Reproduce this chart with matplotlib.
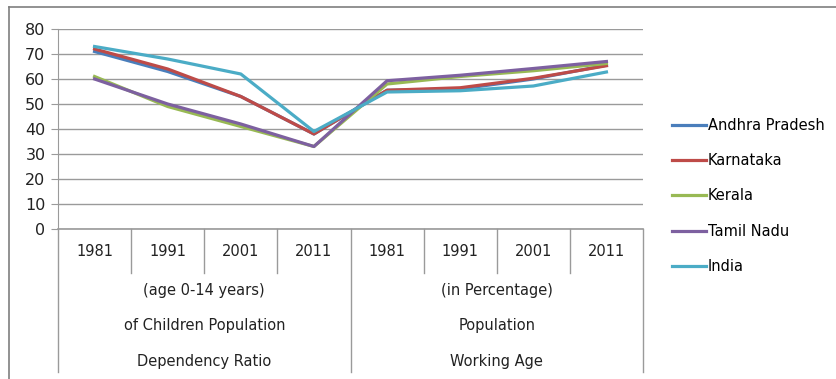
import matplotlib
matplotlib.use("Agg")
import matplotlib.pyplot as plt
from matplotlib.lines import Line2D

plt.rcParams['font.family'] = ['Liberation Sans Narrow', 'DejaVu Sans']

years = ["1981", "1991", "2001", "2011", "1981", "1991", "2001", "2011"]
group_labels = [
    ["(age 0-14 years)", "of Children Population", "Dependency Ratio"],
    ["(in Percentage)", "Population", "Working Age"],
]
states = ["Andhra Pradesh", "Karnataka", "Kerala", "Tamil Nadu", "India"]
colors = ["#4A7EBB", "#BE4B48", "#98B954", "#7D60A0", "#4BACC6"]

andhra = [71, 63, 53, 38, 55.5, 56, 60, 65.5]
karnataka = [72, 64, 53, 38, 55.5, 56.5, 60.3, 65.3]
kerala = [61, 49, 41, 33, 58, 61, 63.3, 66.2]
tamil = [60, 50, 42, 33, 59.3, 61.5, 64.2, 67]
india = [73, 68, 62, 39, 54.8, 55.3, 57.2, 62.8]
series = [andhra, karnataka, kerala, tamil, india]

grid_c = "#9a9a9a"

fig = plt.figure(figsize=(8.37, 3.79), dpi=100)
ax = fig.add_axes([58 / 837, 1 - 229 / 379, 585 / 837, 200 / 379])

x = list(range(len(years)))
for vals, name, c in zip(series, states, colors):
    ax.plot(x, vals, color=c, lw=2.3, label=name, solid_joinstyle='round')

ax.set_xlim(-0.5, 7.5)
ax.set_ylim(0, 80)
ax.set_yticks(range(0, 81, 10))
ax.yaxis.grid(True, color=grid_c, lw=1)
ax.set_axisbelow(True)
for s in ["top", "right", "bottom"]:
    ax.spines[s].set_visible(False)
ax.spines["left"].set_color(grid_c)
ax.axhline(0, color=grid_c, lw=1.2, clip_on=False)
ax.tick_params(axis='y', length=5, color=grid_c, labelsize=11.5, pad=4, labelcolor="#222222")
ax.set_xticks([])

# category axis drawn by hand (multi-level labels)
tr = ax.get_xaxis_transform()
for i, yr in enumerate(years):
    ax.text(i, -0.115, yr, transform=tr, ha='center', va='center', fontsize=10.5, color="#222222")
for k in range(1, 8):
    if k == 4:
        continue
    ax.plot([k - 0.5, k - 0.5], [0, -0.22], transform=tr, color=grid_c, lw=1, clip_on=False)
for k in [-0.5, 3.5, 7.5]:
    ax.plot([k, k], [0, -0.715], transform=tr, color=grid_c, lw=1, clip_on=False)
for g, lines in enumerate(group_labels):
    cx = 1.5 + 4 * g
    for j, txt in enumerate(lines):
        ax.text(cx, -0.305 - 0.178 * j, txt, transform=tr, ha='center', va='center',
                fontsize=10.5, color="#222222")

ax.legend(loc='center left', bbox_to_anchor=(1.04, 0.165), frameon=False, fontsize=10.5,
          handlelength=2.3, handletextpad=0.15, labelspacing=1.4, borderaxespad=0)

# outer chart frame (top and left visible)
fig.add_artist(Line2D([9 / 837, 1.0], [1 - 7 / 379, 1 - 7 / 379], color="#7f7f7f", lw=1.2))
fig.add_artist(Line2D([9 / 837, 9 / 837], [0, 1 - 7 / 379], color="#7f7f7f", lw=1.2))

fig.savefig("out.png", dpi=100)
